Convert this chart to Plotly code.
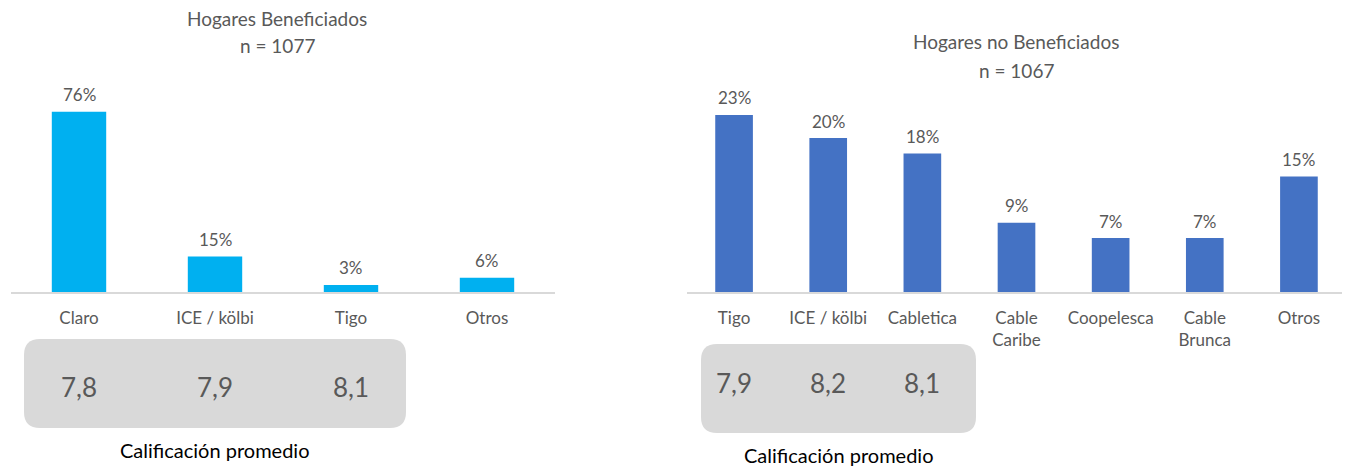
import plotly.graph_objects as go

W, H = 1350, 470
OFF = 8  # page body margin
FW, FH = W - OFF, H - OFF

# ---- data ----
cats_benef = ["Claro", "ICE / kölbi", "Tigo", "Otros"]
vals_benef = [76, 15, 3, 6]
cats_nobenef = ["Tigo", "ICE / kölbi", "Cabletica", "Cable<br>Caribe",
                "Coopelesca", "Cable<br>Brunca", "Otros"]
vals_nobenef = [23, 20, 18, 9, 7, 7, 15]
score_cats_benef = ["Claro", "ICE / kölbi", "Tigo"]
scores_benef = [7.8, 7.9, 8.1]
score_cats_nobenef = ["Tigo", "ICE / kölbi", "Cabletica"]
scores_nobenef = [7.9, 8.2, 8.1]
title_benef = "Hogares Beneficiados"
n_benef = 1077
title_nobenef = "Hogares no Beneficiados"
n_nobenef = 1067
score_caption = "Calificación promedio"

FONT = "Lato"
GRAY_TXT = "#595959"


def px_x(x):
    return (x - OFF) / FW


def px_y(y):
    return (H - y) / FH


def rounded_rect(x0, y0, x1, y1, r):
    def P(x, y):
        return f"{px_x(x):.5f},{px_y(y):.5f}"
    return (f"M {P(x0 + r, y0)} L {P(x1 - r, y0)} Q {P(x1, y0)} {P(x1, y0 + r)} "
            f"L {P(x1, y1 - r)} Q {P(x1, y1)} {P(x1 - r, y1)} "
            f"L {P(x0 + r, y1)} Q {P(x0, y1)} {P(x0, y1 - r)} "
            f"L {P(x0, y0 + r)} Q {P(x0, y0)} {P(x0 + r, y0)} Z")


fig = go.Figure()

fig.add_trace(go.Bar(
    x=cats_benef, y=vals_benef, xaxis="x", yaxis="y",
    marker=dict(color="#00B0F0", line=dict(width=0)),
    hoverinfo="skip", showlegend=False,
))
fig.add_trace(go.Bar(
    x=cats_nobenef, y=vals_nobenef, xaxis="x2", yaxis="y2",
    marker=dict(color="#4472C4", line=dict(width=0)),
    hoverinfo="skip", showlegend=False,
))

ydom = [px_y(292), px_y(100)]
axis_common = dict(
    showgrid=False, zeroline=False, showline=True, linecolor="#D9D9D9",
    linewidth=1.5, ticks="outside", ticklen=10, tickcolor="rgba(0,0,0,0)",
    tickfont=dict(family=FONT, size=17, color=GRAY_TXT), fixedrange=True,
)
yaxis_common = dict(showgrid=False, zeroline=False, showline=False,
                    showticklabels=False, fixedrange=True)

fig.update_layout(
    width=FW, height=FH,
    margin=dict(l=0, r=0, t=0, b=0),
    paper_bgcolor="white", plot_bgcolor="white",
    bargap=0.6,
    xaxis=dict(domain=[px_x(11), px_x(555)], anchor="y", **axis_common),
    yaxis=dict(domain=ydom, range=[0, 81], anchor="x", **yaxis_common),
    xaxis2=dict(domain=[px_x(687), px_x(1346)], anchor="y2", **axis_common),
    yaxis2=dict(domain=ydom, range=[0, 24.94], anchor="x2", **yaxis_common),
)

shapes = []
annotations = []

# data labels above bars
for cats, vals, xr, yr in [(cats_benef, vals_benef, "x", "y"),
                           (cats_nobenef, vals_nobenef, "x2", "y2")]:
    for c, v in zip(cats, vals):
        annotations.append(dict(x=c, y=v, xref=xr, yref=yr, text=f"{v}%",
                                showarrow=False, xanchor="center", yanchor="middle",
                                yshift=17,
                                font=dict(family=FONT, size=17, color=GRAY_TXT)))

# titles
for cx, y1, y2, t, n in [(277, 18, 45, title_benef, n_benef),
                          (1016, 42, 70, title_nobenef, n_nobenef)]:
    annotations.append(dict(x=px_x(cx), y=px_y(y1), xref="paper", yref="paper",
                            text=t, showarrow=False, xanchor="center", yanchor="middle",
                            font=dict(family=FONT, size=19, color=GRAY_TXT)))
    annotations.append(dict(x=px_x(cx), y=px_y(y2), xref="paper", yref="paper",
                            text=f"n = {n}", showarrow=False, xanchor="center", yanchor="middle",
                            font=dict(family=FONT, size=19, color=GRAY_TXT)))

# score boxes
boxes = [((24, 339, 406, 428), "x", score_cats_benef, scores_benef, 387, 450),
         ((701, 344, 976, 433), "x2", score_cats_nobenef, scores_nobenef, 383, 455)]
for (x0, y0, x1, y1), xr, cats, scores, sy, cy in boxes:
    shapes.append(dict(type="path", xref="paper", yref="paper",
                       path=rounded_rect(x0, y0, x1, y1, 16),
                       fillcolor="#D9D9D9", line=dict(width=0), layer="below"))
    for c, s in zip(cats, scores):
        annotations.append(dict(x=c, y=px_y(sy), xref=xr, yref="paper",
                                text=f"{s:.1f}".replace(".", ","), showarrow=False,
                                xanchor="center", yanchor="middle",
                                font=dict(family=FONT, size=26, color=GRAY_TXT)))
    annotations.append(dict(x=px_x((x0 + x1) / 2), y=px_y(cy), xref="paper", yref="paper",
                            text=score_caption, showarrow=False,
                            xanchor="center", yanchor="middle",
                            font=dict(family=FONT, size=20, color="#000000")))

fig.update_layout(shapes=shapes, annotations=annotations)

fig.write_html("out.html")
